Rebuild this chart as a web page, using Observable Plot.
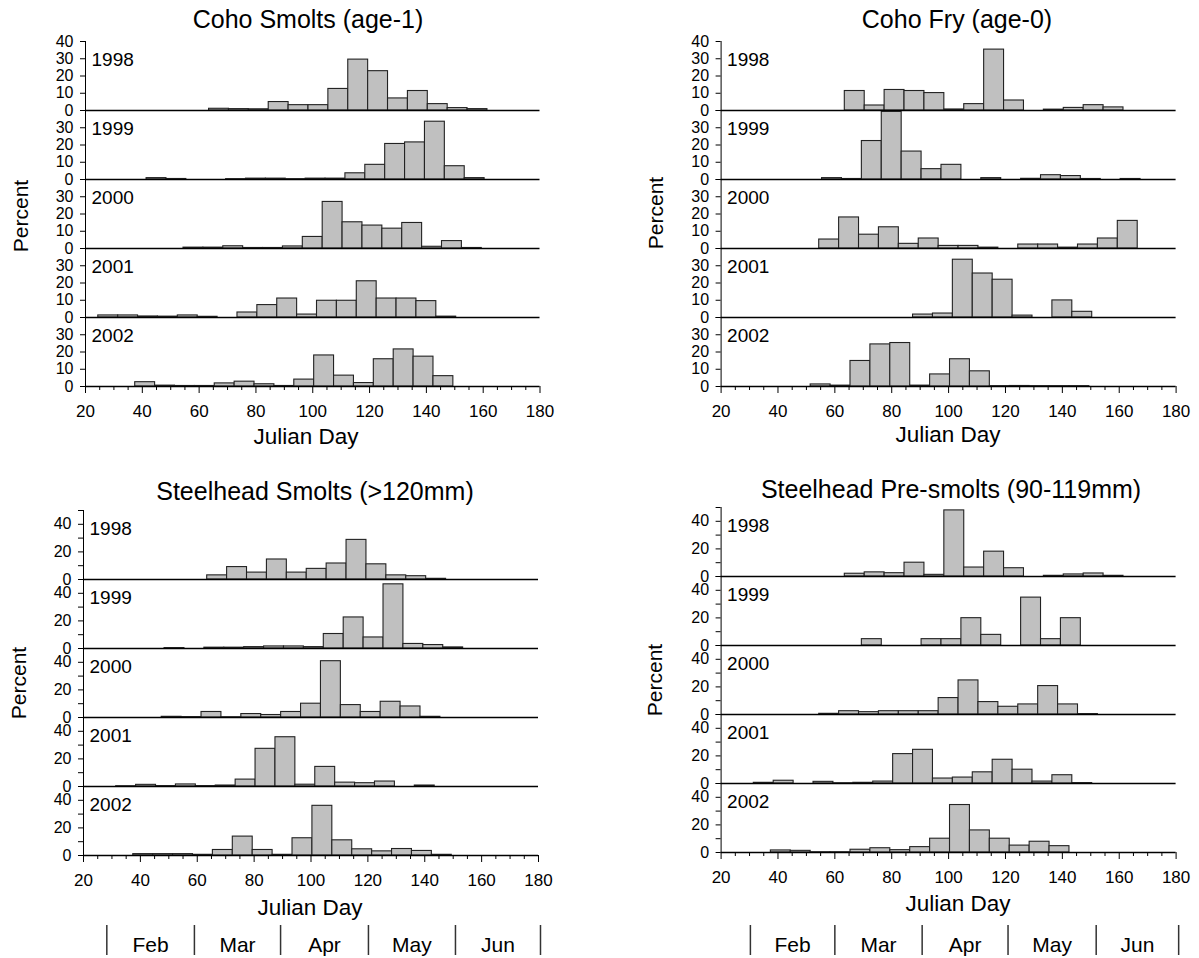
<!DOCTYPE html>
<html>
<head>
<meta charset="utf-8">
<script src="https://cdn.jsdelivr.net/npm/d3@7"></script>
<script src="https://cdn.jsdelivr.net/npm/@observablehq/plot@0.6"></script>
<style>
  body { margin: 0; background: #fff; font-family: "Liberation Sans", Arial, sans-serif; }
  #root { position: relative; width: 1199px; height: 958px; overflow: hidden; background: #fff; }
  .lbl { position: absolute; white-space: nowrap; line-height: 1; color: #000; }
  #root svg { position: absolute; overflow: visible; }
</style>
</head>
<body>
<div id="root"></div>
<script>
// ---------- shared categories / ticks ----------
const years = ["1998", "1999", "2000", "2001", "2002"];
const binWidth = 7; // weekly bins (days)
const xDomain = [20, 180];
const xMajorTicks = [20, 40, 60, 80, 100, 120, 140, 160, 180];
const xMinorTicks = [25, 30, 35, 45, 50, 55, 65, 70, 75, 85, 90, 95, 105, 110, 115, 125, 130, 135, 145, 150, 155, 165, 170, 175];
const months = ["Feb", "Mar", "Apr", "May", "Jun"];
const monthEdgesLeft = [28.2, 59, 89.3, 120.2, 150.8, 180.7];
const monthEdgesRight = [30.3, 60, 90.7, 120.9, 151.9, 180.9];

const cohoYTicks = [0, 10, 20, 30, 40];
const cohoYLabelsTop = [0, 10, 20, 30, 40];
const cohoYLabels = [0, 10, 20, 30];
const steelYTicks = [0, 10, 20, 30, 40, 50];
const steelYLabels = [0, 20, 40];

// ---------- Coho Smolts (age-1): first bin start day per year, weekly percents ----------
const cohoSmoltStart = [63.5, 41.5, 54.5, 24.5, 37.5];
const cohoSmolt1998 = [1.0, 0.8, 0.7, 4.9, 3.1, 3.1, 12.5, 29.5, 22.8, 7.0, 11.3, 3.7, 1.4, 0.8];
const cohoSmolt1999 = [0.8, 0.3, 0, 0, 0.2, 0.5, 0.5, 0.2, 0.5, 0.5, 3.6, 8.5, 20.6, 21.5, 33.5, 7.7, 0.8];
const cohoSmolt2000 = [0.5, 0.5, 1.3, 0.3, 0.3, 1.2, 6.7, 27.0, 15.2, 13.3, 11.5, 14.8, 1.0, 4.3, 0.3];
const cohoSmolt2001 = [1.2, 1.2, 0.6, 0.5, 1.2, 0.4, 0, 2.9, 7.2, 11.0, 1.7, 9.7, 9.7, 21.0, 11.0, 11.0, 9.5, 0.5];
const cohoSmolt2002 = [2.5, 0.5, 0.3, 0.3, 1.8, 2.8, 1.3, 0.3, 4.0, 18.0, 6.3, 2.0, 15.8, 21.5, 17.3, 6.0];

// ---------- Coho Fry (age-0) ----------
const cohoFryStart = [63.5, 55.5, 54.5, 87.5, 51.5];
const cohoFry1998 = [11.3, 2.9, 11.9, 11.3, 10.1, 0.6, 3.7, 35.3, 5.8, 0, 0.5, 1.5, 3.1, 1.8];
const cohoFry1999 = [0.8, 0.3, 22.3, 39.2, 16.2, 6.0, 8.5, 0, 0.8, 0, 0.4, 2.5, 2.0, 0.3, 0, 0.3];
const cohoFry2000 = [5.2, 18.0, 8.0, 12.3, 2.7, 5.8, 1.5, 1.5, 0.5, 0, 2.3, 2.3, 0.5, 2.3, 5.8, 16.0];
const cohoFry2001 = [1.7, 2.3, 33.5, 25.5, 21.9, 1.1, 0, 9.9, 3.3];
const cohoFry2002 = [1.2, 0.5, 14.8, 24.4, 25.2, 0.5, 7.0, 15.8, 8.8, 0.2, 0.3, 0.2, 0.2, 0.2];

// ---------- Steelhead Smolts (>120mm) ----------
const steelSmoltStart = [63.5, 48.5, 47.5, 31.5, 37.5];
const steelSmolt1998 = [3.0, 9.0, 5.0, 14.5, 5.0, 7.7, 11.6, 28.7, 11.0, 3.0, 2.4, 0.5];
const steelSmolt1999 = [0.3, 0, 0.6, 0.6, 1.0, 1.5, 1.5, 1.0, 10.5, 22.5, 8.0, 46.5, 3.3, 2.5, 0.8];
const steelSmolt2000 = [0.5, 0.3, 4.0, 0.2, 2.5, 1.8, 4.0, 10.0, 40.8, 9.0, 4.0, 11.4, 8.0, 0.5];
const steelSmolt2001 = [0.2, 1.2, 0.3, 1.5, 0.3, 0.7, 5.0, 27.3, 35.7, 1.3, 14.2, 2.8, 2.4, 3.6, 0, 0.7];
const steelSmolt2002 = [1.0, 1.0, 1.0, 0.5, 4.0, 13.7, 4.0, 0.5, 12.5, 36.0, 11.0, 4.5, 3.0, 4.7, 3.3, 0.5];

// ---------- Steelhead Pre-smolts (90-119mm) ----------
const steelPreStart = [63.5, 69.5, 54.5, 31.5, 37.5];
const steelPre1998 = [2.0, 3.0, 2.4, 10.0, 1.2, 47.9, 6.5, 18.0, 6.0, 0, 0.5, 1.5, 2.2, 0.5];
const steelPre1999 = [4.6, 0, 0, 4.6, 4.6, 19.8, 7.7, 0, 34.7, 4.6, 19.8];
const steelPre2000 = [0.5, 2.4, 1.7, 2.4, 2.4, 2.4, 11.9, 24.7, 9.0, 5.6, 7.3, 20.6, 7.3, 0.3];
const steelPre2001 = [0.5, 2.0, 0, 1.2, 0.2, 0.5, 1.4, 21.3, 24.4, 3.6, 4.3, 8.1, 17.2, 10.0, 1.4, 6.0, 0.3];
const steelPre2002 = [1.5, 1.2, 0.2, 0.2, 2.0, 3.1, 1.7, 3.9, 10.0, 34.4, 16.0, 10.0, 5.0, 7.8, 4.6];

// ---------- layout ----------
const FONT = "'Liberation Sans', Arial, sans-serif";
const root = document.getElementById("root");

const panels = [
  { title: "Coho Smolts (age-1)", starts: cohoSmoltStart,
    series: [cohoSmolt1998, cohoSmolt1999, cohoSmolt2000, cohoSmolt2001, cohoSmolt2002],
    yMax: 40, yTicks: cohoYTicks, yLabelsTop: cohoYLabelsTop, yLabels: cohoYLabels,
    left: 0, top: 0, width: 600, height: 450, ml: 85, mr: 60.5, mt: 40.5, mb: 63,
    titleXY: [308, 19], percentXY: [20, 216], julianXY: [306, 437] },
  { title: "Coho Fry (age-0)", starts: cohoFryStart,
    series: [cohoFry1998, cohoFry1999, cohoFry2000, cohoFry2001, cohoFry2002],
    yMax: 40, yTicks: cohoYTicks, yLabelsTop: cohoYLabelsTop, yLabels: cohoYLabels,
    left: 600, top: 0, width: 599, height: 450, ml: 120.6, mr: 23.4, mt: 40.5, mb: 63,
    titleXY: [957, 19], percentXY: [655, 213], julianXY: [948, 435] },
  { title: "Steelhead Smolts (>120mm)", starts: steelSmoltStart,
    series: [steelSmolt1998, steelSmolt1999, steelSmolt2000, steelSmolt2001, steelSmolt2002],
    yMax: 50, yTicks: steelYTicks, yLabelsTop: steelYLabels, yLabels: steelYLabels,
    left: 0, top: 450, width: 600, height: 450, ml: 83, mr: 62, mt: 59.4, mb: 44,
    titleXY: [315, 491], percentXY: [18, 683], julianXY: [310, 908],
    monthEdges: monthEdgesLeft },
  { title: "Steelhead Pre-smolts (90-119mm)", starts: steelPreStart,
    series: [steelPre1998, steelPre1999, steelPre2000, steelPre2001, steelPre2002],
    yMax: 50, yTicks: steelYTicks, yLabelsTop: steelYLabels, yLabels: steelYLabels,
    left: 600, top: 450, width: 599, height: 450, ml: 120.6, mr: 23.4, mt: 56.1, mb: 47.5,
    titleXY: [951, 489], percentXY: [654, 680], julianXY: [958, 904],
    monthEdges: monthEdgesRight }
];

function addLabel(text, [x, y], size, rotate) {
  const d = document.createElement("div");
  d.className = "lbl";
  d.textContent = text;
  d.style.left = x + "px";
  d.style.top = y + "px";
  d.style.fontSize = size + "px";
  d.style.fontFamily = FONT;
  d.style.transform = "translate(-50%,-50%)" + (rotate ? " rotate(-90deg)" : "");
  root.appendChild(d);
}

function place(svg, left, top) {
  svg.style.left = left + "px";
  svg.style.top = top + "px";
  root.appendChild(svg);
}

for (const p of panels) {
  const bars = years.flatMap((yr, i) =>
    p.series[i].map((v, k) => ({
      year: yr,
      x1: p.starts[i] + k * binWidth,
      x2: p.starts[i] + (k + 1) * binWidth,
      v
    }))
  );
  const yLab = years.flatMap((yr, i) =>
    (i === 0 ? p.yLabelsTop : p.yLabels).map(v => ({ year: yr, v }))
  );
  const yearRows = years.map(yr => ({ year: yr }));

  const svg = Plot.plot({
    width: p.width,
    height: p.height,
    marginLeft: p.ml, marginRight: p.mr, marginTop: p.mt, marginBottom: p.mb,
    style: { fontFamily: FONT, background: "transparent", color: "#000", overflow: "visible" },
    x: { domain: xDomain },
    y: { domain: [0, p.yMax] },
    fy: { domain: years, padding: 0, axis: null },
    marks: [
      Plot.rectY(bars, { fy: "year", x1: "x1", x2: "x2", y1: 0, y2: "v",
        fill: "#c0c0c0", stroke: "#222", strokeWidth: 1.1 }),
      Plot.ruleY([0], { stroke: "#000", strokeWidth: 1.6 }),
      Plot.ruleX([xDomain[0]], { stroke: "#000", strokeWidth: 1 }),
      Plot.axisY({ ticks: p.yTicks, tickSize: 5, tickFormat: () => "", label: null }),
      Plot.text(yLab, { fy: "year", y: "v", text: d => String(d.v), frameAnchor: "left",
        textAnchor: "end", dx: -12, fontSize: 16, fill: "#000" }),
      Plot.text(yearRows, { fy: "year", text: "year", frameAnchor: "top-left",
        textAnchor: "start", lineAnchor: "middle", dx: 6, dy: 18, fontSize: 19, fill: "#000" }),
      Plot.axisX({ ticks: xMinorTicks, tickSize: 4, tickFormat: () => "", label: null }),
      Plot.axisX({ ticks: xMajorTicks, tickSize: 7, tickPadding: 11, fontSize: 17, label: null })
    ]
  });
  place(svg, p.left, p.top);

  addLabel(p.title, p.titleXY, 25, false);
  addLabel("Percent", p.percentXY, 21, true);
  addLabel("Julian Day", p.julianXY, 22.5, false);

  if (p.monthEdges) {
    const mids = d3.pairs(p.monthEdges).map(([a, b], i) => ({ x: (a + b) / 2, m: months[i] }));
    const bar = Plot.plot({
      width: p.width, height: 40,
      marginLeft: p.ml, marginRight: p.mr, marginTop: 5, marginBottom: 5,
      style: { fontFamily: FONT, background: "transparent", color: "#000", overflow: "visible" },
      x: { domain: xDomain, axis: null },
      marks: [
        Plot.ruleX(p.monthEdges, { stroke: "#333", strokeWidth: 1.5 }),
        Plot.text(mids, { x: "x", text: "m", frameAnchor: "middle", dy: 5, fontSize: 21, fill: "#000" })
      ]
    });
    place(bar, p.left, 920);
  }
}
</script>
</body>
</html>
